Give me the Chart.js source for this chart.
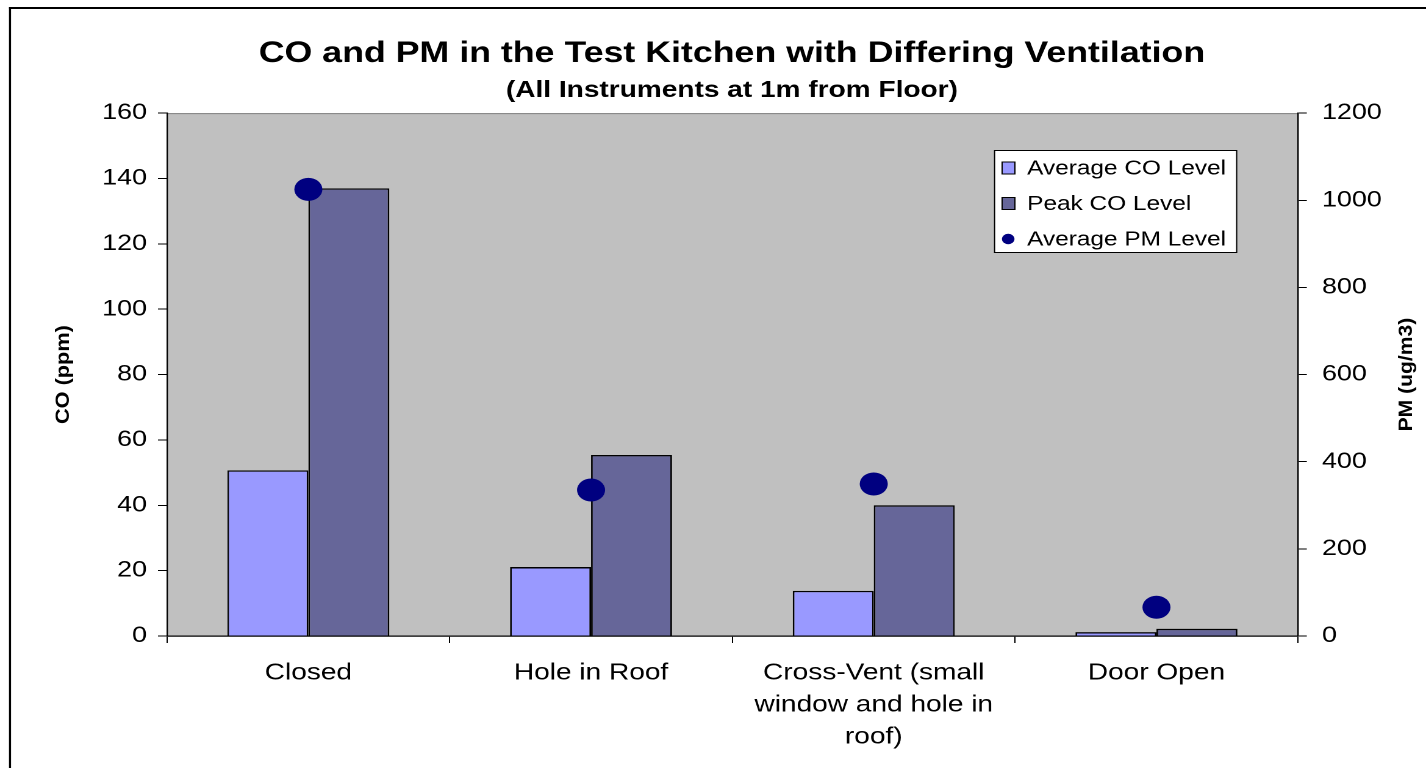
<!DOCTYPE html>
<html>
<head>
<meta charset="utf-8">
<script src="https://cdn.jsdelivr.net/npm/chart.js@4.4.1/dist/chart.umd.min.js"></script>
<style>
  html, body { margin: 0; padding: 0; background: #ffffff; overflow: hidden; }
  #c { display: block; width: 1426px; height: 768px; }
</style>
</head>
<body>
<canvas id="c" width="1169" height="768" style="width:1426px;height:768px;"></canvas>
<script>
// ---- data ----
const categories = ["Closed", "Hole in Roof", ["Cross-Vent (small", "window and hole in", "roof)"], "Door Open"];
const seriesNames = ["Average CO Level", "Peak CO Level", "Average PM Level"];
const avgCO = [50.7, 21.1, 13.8, 1.2];
const peakCO = [137, 55.4, 40, 2.2];
const avgPM = [1025, 335, 349, 66];
const coTicks = [0, 20, 40, 60, 80, 100, 120, 140, 160];
const pmTicks = [0, 200, 400, 600, 800, 1000, 1200];
const titleText = "CO and PM in the Test Kitchen with Differing Ventilation";
const subtitleText = "(All Instruments at 1m from Floor)";
const leftAxisTitle = "CO (ppm)";
const rightAxisTitle = "PM (ug/m3)";

const FONT = "'Liberation Sans', Arial, Helvetica, sans-serif";
const PLOT_LEFT = 136.9, PLOT_RIGHT = 1063.9, PLOT_BOTTOM = 636, CW = 1169, CH = 768;

const decor = {
  id: 'decor',
  beforeDraw(chart) {
    const ctx = chart.ctx;
    const a = chart.chartArea;
    ctx.save();
    ctx.fillStyle = '#C0C0C0';
    ctx.fillRect(a.left, a.top, a.right - a.left, a.bottom - a.top);
    ctx.strokeStyle = '#808080';
    ctx.lineWidth = 1;
    ctx.beginPath();
    ctx.moveTo(a.left, a.top + 0.5);
    ctx.lineTo(a.right, a.top + 0.5);
    ctx.stroke();
    // outer frame
    ctx.strokeStyle = '#000000';
    ctx.lineWidth = 1.7;
    ctx.beginPath();
    ctx.moveTo(8.2, 7);
    ctx.lineTo(8.2, CH + 5);
    ctx.stroke();
    ctx.lineWidth = 2;
    ctx.beginPath();
    ctx.moveTo(7.4, 8);
    ctx.lineTo(CW + 5, 8);
    ctx.stroke();
    ctx.restore();
  },
  afterDraw(chart) {
    const ctx = chart.ctx;
    const a = chart.chartArea;
    const midY = (a.top + a.bottom) / 2;
    ctx.save();
    // axis titles (rotated, reading upward)
    ctx.fillStyle = '#000000';
    ctx.font = "bold 15.5px " + FONT;
    ctx.textAlign = 'center';
    ctx.textBaseline = 'middle';
    ctx.save();
    ctx.translate(52, midY);
    ctx.rotate(-Math.PI / 2);
    ctx.scale(1.4, 1);
    ctx.fillText(leftAxisTitle, 0, 0);
    ctx.restore();
    ctx.save();
    ctx.translate(1153, midY);
    ctx.rotate(-Math.PI / 2);
    ctx.scale(1.36, 1);
    ctx.fillText(rightAxisTitle, 0, 0);
    ctx.restore();

    // legend
    const bx = 814.8, by = 150, bw = 198.5, bh = 102;
    ctx.fillStyle = '#FFFFFF';
    ctx.fillRect(bx, by, bw, bh);
    ctx.strokeStyle = '#000000';
    ctx.lineWidth = 1;
    ctx.strokeRect(bx + 0.5, by + 0.5, bw, bh);
    const rows = [168, 203.5, 239];
    ctx.font = "20px " + FONT;
    ctx.textAlign = 'left';
    ctx.textBaseline = 'middle';
    chart.data.datasets.forEach((ds, i) => {
      const y = rows[i];
      if (ds.type === 'line') {
        ctx.fillStyle = ds.pointBackgroundColor;
        ctx.beginPath();
        ctx.arc(826.5, y, 5.2, 0, Math.PI * 2);
        ctx.fill();
      } else {
        ctx.fillStyle = ds.backgroundColor;
        ctx.fillRect(821.5, y - 6, 10.5, 12);
        ctx.strokeStyle = '#000000';
        ctx.lineWidth = 1;
        ctx.strokeRect(821.5, y - 6, 10.5, 12);
      }
      ctx.fillStyle = '#000000';
      ctx.fillText(ds.label, 842, y + 1);
    });
    ctx.restore();
  }
};

new Chart(document.getElementById('c'), {
  data: {
    labels: categories,
    datasets: [
      { type: 'bar', label: seriesNames[0], data: avgCO, yAxisID: 'y',
        backgroundColor: '#9999FF', borderColor: '#000000', borderWidth: 1.4, order: 1,
        categoryPercentage: 0.573, barPercentage: 1.0 },
      { type: 'bar', label: seriesNames[1], data: peakCO, yAxisID: 'y',
        backgroundColor: '#666699', borderColor: '#000000', borderWidth: 1.4, order: 1,
        categoryPercentage: 0.573, barPercentage: 1.0 },
      { type: 'line', label: seriesNames[2], data: avgPM, yAxisID: 'y1', showLine: false,
        pointRadius: 11.5, pointHoverRadius: 11.5, pointBackgroundColor: '#000080',
        pointBorderColor: '#000080', pointBorderWidth: 0, borderColor: '#000080', order: 0 }
    ]
  },
  options: {
    responsive: false,
    animation: false,
    devicePixelRatio: 2,
    layout: { padding: { left: 31, right: 0, top: 0, bottom: 0 } },
    plugins: {
      legend: { display: false },
      tooltip: { enabled: false },
      title: {
        display: true, text: titleText, color: '#000000',
        font: { family: FONT, size: 29.3, weight: 'bold', lineHeight: 1.2 },
        padding: { top: 36.5, bottom: 0 }
      },
      subtitle: {
        display: true, text: subtitleText, color: '#000000',
        font: { family: FONT, size: 23, weight: 'bold', lineHeight: 1.2 },
        padding: { top: 5, bottom: 8.9 }
      }
    },
    scales: {
      x: {
        type: 'category',
        offset: true,
        grid: { display: true, offset: true, drawOnChartArea: false, drawTicks: true, tickLength: 7, color: '#000000', lineWidth: 1 },
        border: { display: true, color: '#000000', width: 1.2 },
        ticks: { color: '#000000', font: { family: FONT, size: 23, lineHeight: 1.39 }, padding: 14, maxRotation: 0, minRotation: 0, autoSkip: false },
        afterFit(scale) { scale.height = CH - PLOT_BOTTOM; }
      },
      y: {
        type: 'linear', position: 'left', min: 0, max: 160,
        afterBuildTicks(scale) { scale.ticks = coTicks.map(v => ({ value: v })); },
        grid: { display: true, drawOnChartArea: false, drawTicks: true, tickLength: 7.4, color: '#000000', lineWidth: 1 },
        border: { display: true, color: '#000000', width: 1.2 },
        ticks: { color: '#000000', font: { family: FONT, size: 22 }, padding: 9, callback: (v) => String(v) },
        afterFit(scale) { scale.width = PLOT_LEFT - 31; }
      },
      y1: {
        type: 'linear', position: 'right', min: 0, max: 1200,
        afterBuildTicks(scale) { scale.ticks = pmTicks.map(v => ({ value: v })); },
        grid: { display: true, drawOnChartArea: false, drawTicks: true, tickLength: 7.4, color: '#000000', lineWidth: 1 },
        border: { display: true, color: '#000000', width: 1.2 },
        ticks: { color: '#000000', font: { family: FONT, size: 22 }, padding: 12.5, callback: (v) => String(v) },
        afterFit(scale) { scale.width = CW - PLOT_RIGHT; }
      }
    }
  },
  plugins: [decor]
});
</script>
</body>
</html>
